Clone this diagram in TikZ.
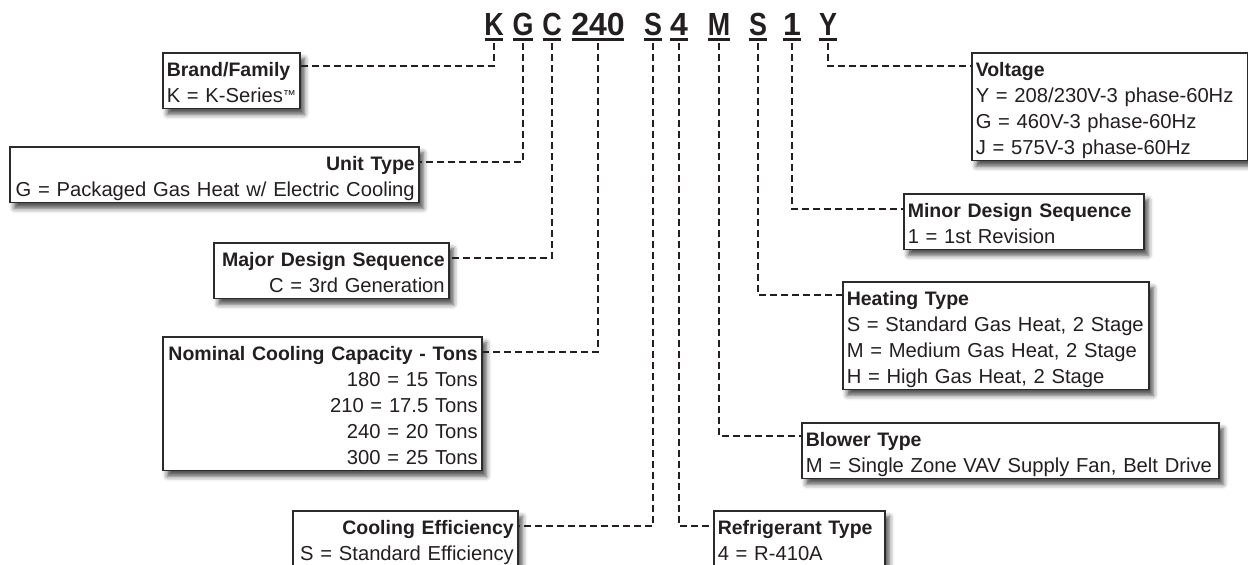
\documentclass[tikz,border=0pt]{standalone}
\usepackage{fontspec}
\setmainfont{Liberation Sans}
\usetikzlibrary{shadows.blur}
\definecolor{ink}{HTML}{231F20}
\definecolor{frame}{HTML}{2B2B2B}
\tikzset{
  box/.style={draw=frame, line width=1.5pt, fill=white, inner xsep=4pt, inner ysep=0pt,
    anchor=north west, text=ink, font=\fontsize{20.2}{26}\selectfont,
    blur shadow={shadow xshift=4.5pt, shadow yshift=-6pt, shadow blur radius=5pt, shadow opacity=70}},
  dl/.style={draw=ink, line width=2.4pt, dash pattern=on 7pt off 4pt},
  code/.style={inner sep=0pt, anchor=base, text=ink, font=\fontsize{32}{32}\selectfont\bfseries},
  uline/.style={draw=ink, line width=3pt},
}
\newcommand\ttl[1]{\rule{0pt}{23.5pt}\mbox{\fontsize{19.5}{26}\selectfont\bfseries #1}}
\newcommand\lne[1]{\mbox{#1}}
\newcommand\lst{\rule[-6pt]{0pt}{6pt}}
\newcommand\cnd[1]{\scalebox{0.84}[1]{#1}}
\begin{document}
\begin{tikzpicture}[x=1pt,y=-1pt]
\useasboundingbox (0,0) rectangle (1248,565);
% code letters
\node[code] (cK)   at (494,35) {\cnd{K}};
\node[code] (cG)   at (523,35) {\cnd{G}};
\node[code] (cC)   at (552,35) {\cnd{C}};
\node[code] (c240) at (598,35) {240};
\node[code] (cS)   at (653,35) {\cnd{S}};
\node[code] (c4)   at (679,35) {4};
\node[code] (cM)   at (719,35) {\cnd{M}};
\node[code] (cSb)  at (758,35) {\cnd{S}};
\node[code] (c1)   at (792,35) {1};
\node[code] (cY)   at (828,35) {\cnd{Y}};
\foreach \n in {cK,cG,cC,c240,cS,c4,cM,cSb,c1,cY}{
  \draw[uline] ([xshift=0.5pt,yshift=-4.5pt]\n.base west) -- ([xshift=-0.5pt,yshift=-4.5pt]\n.base east);
}
% boxes
\node[box, align=left, text width=129pt] (brand) at (162,52)
  {\ttl{Brand/Family}\\\lne{K = K-Series{\fontsize{13}{13}\selectfont\raisebox{2.5pt}{™}}}\lst};
\node[box, align=right, text width=401pt] (unit) at (9,146)
  {\ttl{Unit Type}\\\lne{G = Packaged Gas Heat w/ Electric Cooling}\lst};
\node[box, align=right, text width=227pt] (major) at (213,242)
  {\ttl{Major Design Sequence}\\\lne{C = 3rd Generation}\lst};
\node[box, align=right, text width=311pt] (nominal) at (162,336)
  {\ttl{Nominal Cooling Capacity - Tons}\\\lne{180 = 15 Tons}\\\lne{210 = 17.5 Tons}\\\lne{240 = 20 Tons}\\\lne{300 = 25 Tons}\lst};
\node[box, align=right, text width=217pt] (cooleff) at (292,510)
  {\ttl{Cooling Efficiency}\\\lne{S = Standard Efficiency}\lst};
\node[box, align=left, text width=163pt] (refrig) at (713,510)
  {\ttl{Refrigerant Type}\\\lne{4 = R-410A}\lst};
\node[box, align=left, text width=409pt] (blower) at (801,422)
  {\ttl{Blower Type}\\\lne{M = Single Zone VAV Supply Fan, Belt Drive}\lst};
\node[box, align=left, text width=298pt] (heating) at (842,281)
  {\ttl{Heating Type}\\\lne{S = Standard Gas Heat, 2 Stage}\\\lne{M = Medium Gas Heat, 2 Stage}\\\lne{H = High Gas Heat, 2 Stage}\lst};
\node[box, align=left, text width=232pt] (minor) at (903,193)
  {\ttl{Minor Design Sequence}\\\lne{1 = 1st Revision}\lst};
\node[box, align=left, text width=268pt] (volt) at (971,52)
  {\ttl{Voltage}\\\lne{Y = 208/230V-3 phase-60Hz}\\\lne{G = 460V-3 phase-60Hz}\\\lne{J = 575V-3 phase-60Hz}\lst};
% connectors
\draw[dl] ([yshift=-8pt]cK.base)   |- ([yshift=-14pt]brand.north east);
\draw[dl] ([yshift=-8pt]cG.base)   |- ([yshift=-16pt]unit.north east);
\draw[dl] ([yshift=-8pt]cC.base)   |- ([yshift=-16pt]major.north east);
\draw[dl] ([yshift=-8pt]c240.base) |- ([yshift=-16pt]nominal.north east);
\draw[dl] ([yshift=-8pt]cS.base)   |- ([yshift=-16pt]cooleff.north east);
\draw[dl] ([yshift=-8pt]c4.base)   |- ([yshift=-16pt]refrig.north west);
\draw[dl] ([yshift=-8pt]cM.base)   |- ([yshift=-14pt]blower.north west);
\draw[dl] ([yshift=-8pt]cSb.base)  |- ([yshift=-14pt]heating.north west);
\draw[dl] ([yshift=-8pt]c1.base)   |- ([yshift=-16pt]minor.north west);
\draw[dl] ([yshift=-8pt]cY.base)   |- ([yshift=-14pt]volt.north west);
\end{tikzpicture}
\end{document}
